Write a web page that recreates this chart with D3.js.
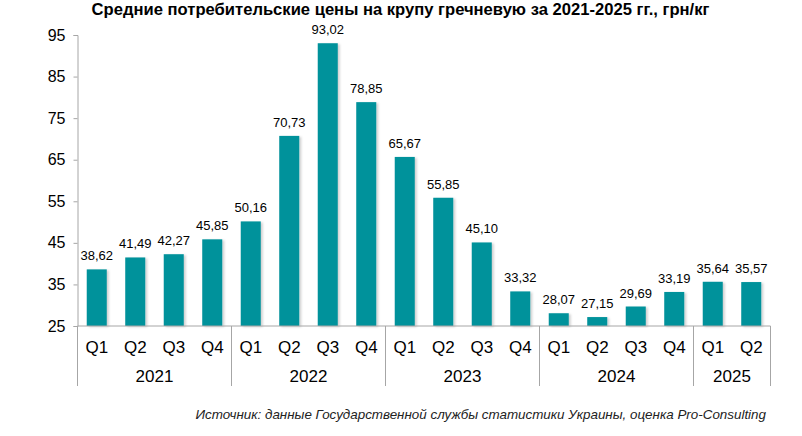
<!DOCTYPE html>
<html>
<head>
<meta charset="utf-8">
<script src="https://cdn.jsdelivr.net/npm/d3@7"></script>
<style>
  body { margin: 0; background: #fff; }
  svg { display: block; font-family: Arial, "Liberation Sans", sans-serif; }
</style>
</head>
<body>
<svg width="802" height="436"></svg>
<script>
const TITLE = "Средние потребительские цены на крупу гречневую за 2021-2025 гг., грн/кг";
const SOURCE = "Источник: данные Государственной службы статистики Украины, оценка Pro-Consulting";
const years = ["2021", "2022", "2023", "2024", "2025"];
const quarters = [
  ["Q1", "Q2", "Q3", "Q4"],
  ["Q1", "Q2", "Q3", "Q4"],
  ["Q1", "Q2", "Q3", "Q4"],
  ["Q1", "Q2", "Q3", "Q4"],
  ["Q1", "Q2"],
];
const prices = [
  38.62, 41.49, 42.27, 45.85,
  50.16, 70.73, 93.02, 78.85,
  65.67, 55.85, 45.10, 33.32,
  28.07, 27.15, 29.69, 33.19,
  35.64, 35.57,
];
const yTicks = [25, 35, 45, 55, 65, 75, 85, 95];

const BAR_COLOR = "#00929b";
const AXIS_COLOR = "#a6a6a6";
const [LEFT, RIGHT, TOP, BOTTOM] = [77.5, 770.5, 35, 326];

// flatten quarter/year into one category list
const cats = [];
quarters.forEach((qs, yi) => qs.forEach((q) => cats.push({ year: years[yi], q, key: years[yi] + q })));
cats.forEach((c, i) => (c.value = prices[i]));

const svg = d3.select("svg");

const defs = svg.append("defs");
const shadow = defs.append("filter").attr("id", "shadow").attr("x", "-20%").attr("width", "160%");
shadow.append("feDropShadow")
  .attr("dx", 2).attr("dy", 1).attr("stdDeviation", 1.2)
  .attr("flood-color", "#000").attr("flood-opacity", 0.18);

const x = d3.scaleBand().domain(cats.map((c) => c.key)).range([LEFT, RIGHT]).paddingInner(0.48).paddingOuter(0.24);
const y = d3.scaleLinear().domain([25, 95]).range([BOTTOM, TOP]);

// title
svg.append("text")
  .attr("x", 400.5).attr("y", 15)
  .attr("text-anchor", "middle")
  .attr("font-size", 16.6).attr("font-weight", "bold")
  .text(TITLE);

// y axis
const yAxis = svg.append("g")
  .attr("transform", `translate(${LEFT},0)`)
  .call(d3.axisLeft(y).tickValues(yTicks).tickSize(4).tickPadding(8));
yAxis.select(".domain").attr("stroke", AXIS_COLOR);
yAxis.selectAll(".tick line").attr("stroke", AXIS_COLOR);
yAxis.selectAll(".tick text").attr("font-size", 16).attr("fill", "#000").attr("font-family", "Arial, 'Liberation Sans', sans-serif");

// bars
svg.append("g")
  .selectAll("rect")
  .data(cats)
  .enter()
  .append("rect")
  .attr("x", (c) => x(c.key))
  .attr("y", (c) => y(c.value))
  .attr("width", x.bandwidth())
  .attr("height", (c) => y(25) - y(c.value))
  .attr("fill", BAR_COLOR)
  .attr("filter", "url(#shadow)");

// value labels
svg.append("g")
  .selectAll("text")
  .data(cats)
  .enter()
  .append("text")
  .attr("x", (c) => x(c.key) + x.bandwidth() / 2)
  .attr("y", (c) => y(c.value) - 9)
  .attr("text-anchor", "middle")
  .attr("font-size", 13)
  .text((c) => c.value.toFixed(2).replace(".", ","));

// bottom axis line
svg.append("line")
  .attr("x1", LEFT).attr("x2", RIGHT)
  .attr("y1", BOTTOM).attr("y2", BOTTOM)
  .attr("stroke", AXIS_COLOR);

// quarter labels
const step = x.step();
svg.append("g")
  .selectAll("text")
  .data(cats)
  .enter()
  .append("text")
  .attr("x", (c) => x(c.key) + x.bandwidth() / 2)
  .attr("y", 353)
  .attr("text-anchor", "middle")
  .attr("font-size", 17)
  .text((c) => c.q);

// year groups: separators and labels
let start = 0;
const groups = quarters.map((qs, yi) => {
  const g = { year: years[yi], first: cats[start].key, last: cats[start + qs.length - 1].key };
  start += qs.length;
  return g;
});
const groupLeft = (g) => x(g.first) - (step - x.bandwidth()) / 2;
const groupRight = (g) => x(g.last) + x.bandwidth() + (step - x.bandwidth()) / 2;

svg.append("g")
  .selectAll("line")
  .data([groupLeft(groups[0])].concat(groups.map(groupRight)))
  .enter()
  .append("line")
  .attr("x1", (d) => d).attr("x2", (d) => d)
  .attr("y1", BOTTOM).attr("y2", 386)
  .attr("stroke", AXIS_COLOR);

svg.append("g")
  .selectAll("text")
  .data(groups)
  .enter()
  .append("text")
  .attr("x", (g) => (groupLeft(g) + groupRight(g)) / 2)
  .attr("y", 382)
  .attr("text-anchor", "middle")
  .attr("font-size", 17)
  .text((g) => g.year);

// source note
svg.append("text")
  .attr("x", 766).attr("y", 419)
  .attr("text-anchor", "end")
  .attr("font-size", 13.4).attr("font-style", "italic")
  .attr("fill", "#222")
  .text(SOURCE);
</script>
</body>
</html>
